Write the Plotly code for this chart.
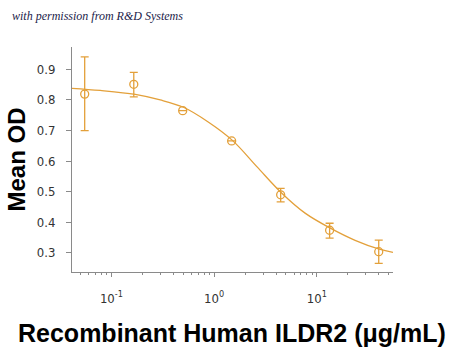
import plotly.graph_objects as go

# Data points (3-fold dilutions, µg/mL)
conc = [0.0549, 0.165, 0.494, 1.48, 4.44, 13.3, 40.0]
mean_od = [0.819, 0.851, 0.765, 0.666, 0.490, 0.374, 0.304]
err_plus = [0.122, 0.039, 0.0, 0.0, 0.021, 0.023, 0.038]
err_minus = [0.119, 0.041, 0.0, 0.0, 0.023, 0.026, 0.038]

# Fitted curve
curve_x = [0.0413, 0.0778, 0.1706, 0.2985, 0.5023, 0.8750, 1.514, 2.618,
           4.560, 7.674, 13.65, 23.55, 40.55, 55.08]
curve_y = [0.838, 0.831, 0.818, 0.800, 0.776, 0.728, 0.667, 0.581,
           0.495, 0.430, 0.380, 0.341, 0.312, 0.302]

y_ticks = [0.3, 0.4, 0.5, 0.6, 0.7, 0.8, 0.9]
x_ticks = [0.1, 1, 10]
x_ticktext = ["10<sup>-1</sup>", "10<sup>0</sup>", "10<sup>1</sup>"]
x_minor = [m * 10 ** e for e in (-2, -1, 0, 1) for m in range(2, 10)]

ORANGE = "#E3A03A"
AXIS = "#8a8a8a"
TICKFONT = dict(family="Liberation Sans Narrow, DejaVu Sans Condensed, Arial Narrow, sans-serif",
                size=13, color="#333333")

fig = go.Figure()
fig.add_trace(go.Scatter(
    x=curve_x, y=curve_y, mode="lines", line=dict(color=ORANGE, width=1.3, shape="spline"),
    hoverinfo="skip", showlegend=False))
fig.add_trace(go.Scatter(
    x=conc, y=mean_od, mode="markers",
    marker=dict(symbol="circle-open", size=8, color=ORANGE, line=dict(width=1.3, color=ORANGE)),
    error_y=dict(type="data", array=err_plus, arrayminus=err_minus, symmetric=False,
                 color=ORANGE, thickness=1.3, width=4),
    showlegend=False))

fig.update_layout(
    width=450, height=350,
    margin=dict(l=72, r=57, t=47, b=78),
    paper_bgcolor="white", plot_bgcolor="white",
    xaxis=dict(type="log", range=[-1.384, 1.741], showline=True, linecolor=AXIS, linewidth=1,
               showgrid=False, zeroline=False, ticks="outside", ticklen=4, tickcolor=AXIS,
               tickvals=x_ticks, ticktext=x_ticktext, tickfont=TICKFONT, ticklabelstandoff=10,
               minor=dict(tickvals=x_minor, ticks="outside", ticklen=2, tickcolor=AXIS)),
    yaxis=dict(range=[0.2376, 0.973], showline=True, linecolor=AXIS, linewidth=1,
               showgrid=False, zeroline=False, ticks="outside", ticklen=5, tickcolor=AXIS,
               tickvals=y_ticks, ticktext=[f"{v:.1f}" for v in y_ticks], tickfont=TICKFONT,
               ticklabelstandoff=8),
)

# Annotations in paper coordinates
plot_w = 450 - 72 - 57
plot_h = 350 - 47 - 78
fig.add_annotation(text="<i>with permission from R&amp;D Systems</i>",
                   x=(10 - 72) / plot_w, y=(350 - 78 - 16) / plot_h,
                   xref="paper", yref="paper", xanchor="left", yanchor="middle", showarrow=False,
                   font=dict(family="Liberation Serif, DejaVu Serif, serif", size=12, color="#1c1c4a"))
fig.add_annotation(text="<b>Mean OD</b>", x=(16 - 72) / plot_w, y=0.5, textangle=-90,
                   xref="paper", yref="paper", xanchor="center", yanchor="middle", showarrow=False,
                   font=dict(family="Liberation Sans, Arial, sans-serif", size=24, color="black"))
fig.add_annotation(text="<b>Recombinant Human ILDR2 (μg/mL)</b>", x=(232 - 72) / plot_w,
                   y=(272 - 333) / plot_h,
                   xref="paper", yref="paper", xanchor="center", yanchor="middle", showarrow=False,
                   font=dict(family="Liberation Sans, Arial, sans-serif", size=25, color="black"))

fig.write_html("out.html")
